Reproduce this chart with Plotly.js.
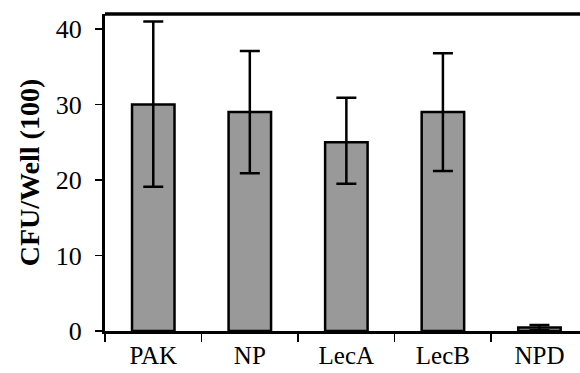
<!DOCTYPE html>
<html><head><meta charset="utf-8">
<script src="https://cdn.plot.ly/plotly-3.0.1.min.js"></script>
<style>html,body{margin:0;padding:0;background:#fff;overflow:hidden}</style>
</head><body><div id="chart" style="width:580px;height:373px"></div>
<script>
const categories = ["PAK", "NP", "LecA", "LecB", "NPD"];
const cfuValues = [30, 29, 25, 29, 0.45];
const errorPlus = [11, 8.1, 5.9, 7.8, 0.35];
const errorMinus = [10.9, 8.1, 5.5, 7.8, 0.35];
const yTicks = [0, 10, 20, 30, 40];

const trace = {
  type: "bar",
  x: categories,
  y: cfuValues,
  width: 0.44,
  marker: {color: "#999999", line: {color: "#000", width: 2.5}},
  error_y: {type: "data", symmetric: false, array: errorPlus, arrayminus: errorMinus,
            color: "#000", thickness: 2.5, width: 10},
  hoverinfo: "skip"
};

const layout = {
  width: 580, height: 373,
  margin: {l: 105, r: 0, t: 14, b: 42},
  paper_bgcolor: "#fff", plot_bgcolor: "#fff",
  showlegend: false,
  font: {family: "Liberation Serif, Times New Roman, serif", color: "#000"},
  xaxis: {
    type: "category",
    range: [-0.5, 4.42],
    showline: true, linecolor: "#000", linewidth: 3,
    ticks: "outside", ticklen: 8, tickwidth: 1.5, tickcolor: "#000",
    tickson: "boundaries",
    ticklabelstandoff: 0,
    tickfont: {size: 25, family: "Liberation Serif, serif"},
    showgrid: false, zeroline: false, fixedrange: true
  },
  yaxis: {
    range: [0, 42],
    tickvals: yTicks,
    showline: true, linecolor: "#000", linewidth: 3,
    ticks: "outside", ticklen: 7, tickwidth: 1.5, tickcolor: "#000",
    ticklabelstandoff: 8,
    tickfont: {size: 26, family: "Liberation Serif, serif"},
    showgrid: false, zeroline: false, fixedrange: true,
    title: {text: "<b>CFU/Well (100)</b>", font: {size: 28, family: "Liberation Serif, serif"}, standoff: 8}
  },
  shapes: [{type: "line", xref: "paper", yref: "paper", x0: 0, x1: 1, y0: 1, y1: 1,
            line: {color: "#000", width: 3.5}}]
};

Plotly.newPlot("chart", [trace], layout, {staticPlot: true, displayModeBar: false});
</script></body></html>
